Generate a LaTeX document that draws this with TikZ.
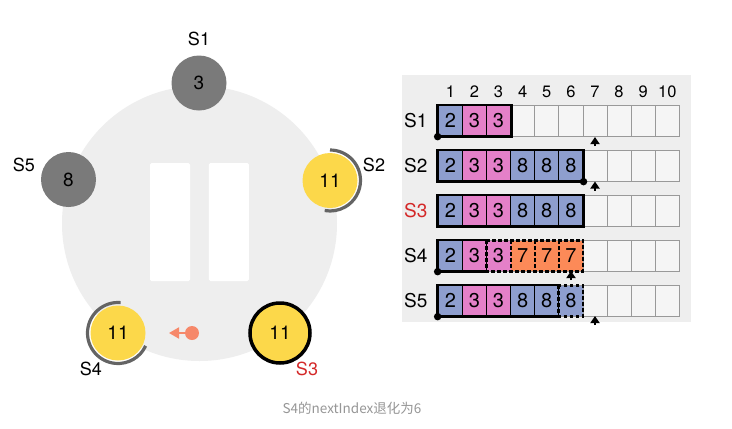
\documentclass[tikz,border=0pt]{standalone}
\usepackage{fontspec}
\setmainfont{TeX Gyre Heros}
\newfontfamily\cjkfont{Noto Sans CJK SC}
\usetikzlibrary{arrows.meta}
\definecolor{cblue}{RGB}{142,158,206}
\definecolor{cpink}{RGB}{228,128,200}
\definecolor{corange}{RGB}{252,138,88}
\definecolor{cyellow}{RGB}{252,216,74}
\definecolor{cgray}{RGB}{122,122,122}
\definecolor{carc}{RGB}{100,100,100}
\definecolor{cbg}{RGB}{238,238,238}
\definecolor{cpanel}{RGB}{238,238,238}
\definecolor{cempty}{RGB}{245,245,245}
\definecolor{cred}{RGB}{212,40,40}
\definecolor{csalmon}{RGB}{246,136,106}
\definecolor{ccap}{RGB}{150,150,150}
\tikzset{
  srv/.style={circle, inner sep=0pt, minimum size=55pt, font=\fontsize{19}{21}\selectfont},
  gsrv/.style={srv, fill=cgray},
  ysrv/.style={srv, fill=cyellow},
  ring/.style={draw=carc, line width=3.2pt},
  slabel/.style={font=\fontsize{18}{20}\selectfont},
  bar/.style={fill=white, rounded corners=1.5pt, minimum width=40pt, minimum height=118pt, inner sep=0pt},
  emptycell/.style={rectangle, draw=black!40, fill=cempty, line width=0.8pt, minimum width=24.1pt, minimum height=30.5pt, inner sep=0pt},
  basecell/.style={rectangle, minimum width=24.1pt, minimum height=30.5pt, inner sep=0pt, font=\fontsize{20}{22}\selectfont},
  cb/.style={basecell, fill=cblue, draw=black, line width=1.3pt},
  cp/.style={basecell, fill=cpink, draw=black, line width=1.3pt},
  db/.style={basecell, fill=cblue},
  dp/.style={basecell, fill=cpink},
  do/.style={basecell, fill=corange},
  grp/.style={draw=black, line width=2.6pt, line join=miter},
  grpd/.style={draw=black, line width=2.6pt, dash pattern=on 3.5pt off 2.5pt},
  hdr/.style={font=\fontsize{16.5}{18}\selectfont},
  rlabel/.style={anchor=east, font=\fontsize{19}{21}\selectfont},
  enddot/.style={circle, fill=black, minimum size=7.5pt, inner sep=0pt},
  upar/.style={draw=black, line width=2.2pt, -{Triangle[width=9pt,length=7pt]}},
}
\begin{document}
\begin{tikzpicture}[x=1pt,y=-1pt]
\fill[white] (0,0) rectangle (732,429);
\useasboundingbox (0,0) rectangle (732,429);

% ---------- left: cluster ----------
\node[circle, fill=cbg, minimum size=275pt, inner sep=0pt] (bg) at (199.5,223.5) {};
\node[bar] (p1) at (170,222) {};
\node[bar] (p2) at (228.8,222) {};

\node[gsrv] (s1) at (199,83) {3};
\node[gsrv] (s5) at (68.5,179.5) {8};
\node[ysrv] (s2) at (330,180.5) {11};
\node[ysrv] (s4) at (118,333) {11};
\node[ysrv, minimum size=60pt, draw=black, line width=3.5pt] (s3) at (280,333) {11};

\draw[ring] ([shift={(-90:30.5)}]s2.center) arc[start angle=-90, end angle=100, radius=30.5];
\draw[ring] ([shift={(-85:30.5)}]s4.center) arc[start angle=-85, end angle=-335, radius=30.5];

\node[slabel] (l1) at (199,39) {S1};
\node[slabel] (l5) at (24,165) {S5};
\node[slabel] (l2) at (374,165) {S2};
\node[slabel] (l4) at (91,369) {S4};
\node[slabel, text=cred] (l3) at (307,369) {S3};

\node[circle, fill=csalmon, minimum size=14pt, inner sep=0pt] (rd) at (192,333) {};
\coordinate (rt) at (169,333);
\draw[csalmon, line width=2pt, -{Triangle[length=10pt,width=11pt]}] (rd.center) -- (rt);

% ---------- right: logs ----------
\fill[cpanel] (401.5,75) rectangle (690.5,322);

\foreach \i in {1,...,10}
  \node[hdr] (h\i) at ({438.3+24.1*(\i-0.5)},91.5) {\i};

\foreach \r in {1,...,5}
  \foreach \i in {1,...,10}
    \node[emptycell] (e\r-\i) at ({438.3+24.1*(\i-0.5)},{120.75+45*(\r-1)}) {};

\foreach \r/\i/\s/\t in {
  1/1/cb/2, 1/2/cp/3, 1/3/cp/3,
  2/1/cb/2, 2/2/cp/3, 2/3/cp/3, 2/4/cb/8, 2/5/cb/8, 2/6/cb/8,
  3/1/cb/2, 3/2/cp/3, 3/3/cp/3, 3/4/cb/8, 3/5/cb/8, 3/6/cb/8,
  4/1/cb/2, 4/2/cp/3, 4/3/dp/3, 4/4/do/7, 4/5/do/7, 4/6/do/7,
  5/1/cb/2, 5/2/cp/3, 5/3/cp/3, 5/4/cb/8, 5/5/cb/8, 5/6/db/8}
  \node[\s] (c\r-\i) at ({438.3+24.1*(\i-0.5)},{120.75+45*(\r-1)}) {\t};

\draw[grp] (c1-1.north west) rectangle (c1-3.south east);
\draw[grp] (c2-1.north west) rectangle (c2-6.south east);
\draw[grp] (c3-1.north west) rectangle (c3-6.south east);
\draw[grp] (c4-2.north east) -- (c4-1.north west) -- (c4-1.south west) -- (c4-2.south east);
\draw[grpd] (c4-3.north west) rectangle (c4-6.south east);
\draw[grpd] (c4-3.north east) -- (c4-3.south east);
\draw[grpd] (c4-4.north east) -- (c4-4.south east);
\draw[grpd] (c4-5.north east) -- (c4-5.south east);
\draw[grp] (c5-5.north east) -- (c5-1.north west) -- (c5-1.south west) -- (c5-5.south east);
\draw[grpd] (c5-6.north west) rectangle (c5-6.south east);

\node[rlabel] (r1) at (431,120.75) {S1};
\node[rlabel] (r2) at (431,165.75) {S2};
\node[rlabel, text=cred] (r3) at (431,210.75) {S3};
\node[rlabel] (r4) at (431,255.75) {S4};
\node[rlabel] (r5) at (431,300.75) {S5};

\node[enddot] (d1) at (c1-1.south west) {};
\node[enddot] (d2) at (c2-6.south east) {};
\node[enddot] (d4) at (c4-1.south west) {};
\node[enddot] (d5) at (c5-1.south west) {};

\coordinate (a1b) at (595,146);   \coordinate (a1t) at (595,137);
\coordinate (a2b) at (595,190.5); \coordinate (a2t) at (595,181.5);
\coordinate (a4b) at (571,280);   \coordinate (a4t) at (571,271);
\coordinate (a5b) at (595,325);   \coordinate (a5t) at (595,316);
\draw[upar] (a1b) -- (a1t);
\draw[upar] (a2b) -- (a2t);
\draw[upar] (a4b) -- (a4t);
\draw[upar] (a5b) -- (a5t);

% ---------- caption ----------
\node[text=ccap, font=\cjkfont\fontsize{13.5}{15}\selectfont] (cap) at (352,408) {S4的nextIndex退化为6};
\end{tikzpicture}
\end{document}
